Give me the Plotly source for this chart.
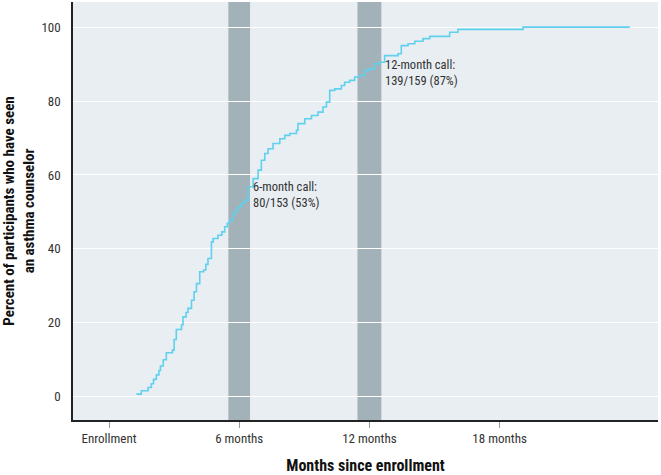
import plotly.graph_objects as go

# ── Palette ──────────────────────────────────────────────────────────────────
PLOT_BG = "#e9eef2"
LINE    = "#5fd0ee"
BAND    = "#a3b1b9"
TXT     = "#333333"
FONT    = "Roboto Condensed, DejaVu Sans Condensed, Liberation Sans Narrow, Roboto, sans-serif"

# ── Data ─────────────────────────────────────────────────────────────────────
MONTHS = [1.26, 1.49, 1.80, 1.95, 2.05, 2.18, 2.30, 2.37, 2.50, 2.64, 2.92, 3.00,
          3.10, 3.34, 3.41, 3.55, 3.64, 3.80, 3.92, 4.03, 4.18, 4.36, 4.46, 4.56,
          4.72, 4.80, 5.02, 5.20, 5.33, 5.45, 5.56, 5.71, 5.84, 5.94, 6.10, 6.25,
          6.41, 6.64, 6.87, 7.02, 7.18, 7.33, 7.56, 7.87, 8.10, 8.33, 8.64, 8.71,
          9.02, 9.33, 9.63, 9.86, 10.02, 10.17, 10.40, 10.71, 10.86, 11.09, 11.32,
          11.55, 11.78, 12.00, 12.24, 12.47, 12.70, 13.32, 13.47, 13.78, 14.09,
          14.47, 14.78, 15.70, 16.08, 19.08, 24.00]
PCT    = [0.7, 1.6, 2.5, 3.5, 4.7, 5.9, 7.1, 8.3, 10.0, 11.9, 12.6, 15.5,
          18.2, 19.4, 21.6, 22.8, 23.9, 26.1, 28.4, 30.6, 33.8, 34.3, 35.8, 37.4,
          41.9, 42.8, 43.7, 44.6, 46.0, 46.9, 47.8, 49.6, 50.5, 51.4, 52.3, 53.2,
          56.8, 59.0, 61.3, 64.0, 65.8, 67.1, 68.5, 69.8, 70.7, 71.2, 72.1, 73.9,
          75.2, 76.1, 77.0, 78.4, 79.7, 82.9, 83.3, 84.2, 85.1, 85.6, 86.5,
          86.9, 88.3, 88.7, 90.1, 90.5, 92.3, 92.8, 95.0, 95.5, 96.2,
          96.9, 97.5, 98.6, 99.4, 100.0, 100.0]

CALL_BANDS  = [(5.5, 6.5), (11.45, 12.55)]
CALL_LABELS = ["6-month call:<br>80/153 (53%)", "12-month call:<br>139/159 (87%)"]
LABEL_POS   = [(6.56, 54.8), (12.63, 87.8)]

X_TICKS  = [0, 6, 12, 18]
X_LABELS = ["Enrollment", "6 months", "12 months", "18 months"]
Y_TICKS  = [0, 20, 40, 60, 80, 100]

fig = go.Figure()

fig.add_trace(go.Scatter(
    x=MONTHS, y=PCT, mode="lines",
    line=dict(color=LINE, width=1.6, shape="hv"),
    showlegend=False, hoverinfo="skip",
))

for x0, x1 in CALL_BANDS:
    fig.add_shape(type="rect", xref="x", yref="paper", x0=x0, x1=x1, y0=0, y1=1,
                  fillcolor=BAND, line_width=0, opacity=1, layer="below")

for txt, (ax, ay) in zip(CALL_LABELS, LABEL_POS):
    fig.add_annotation(x=ax, y=ay, text=txt, showarrow=False,
                       xanchor="left", yanchor="middle", align="left",
                       font=dict(family=FONT, size=12.5, color=TXT))

fig.update_layout(
    width=661, height=475,
    margin=dict(l=73, r=3, t=2, b=55),
    paper_bgcolor="white", plot_bgcolor=PLOT_BG,
    font=dict(family=FONT, color=TXT, size=12),
    xaxis=dict(
        range=[-1.66, 25.3], tickvals=X_TICKS, ticktext=X_LABELS,
        showgrid=False, zeroline=False, automargin=False,
        showline=True, linecolor="#222222", linewidth=1.5,
        ticks="outside", ticklen=6, tickcolor="#999999", tickwidth=1,
        tickfont=dict(family=FONT, size=13, color=TXT),
        title=dict(text="<b>Months since enrollment</b>", standoff=16,
                   font=dict(family=FONT, size=16, color="#111111")),
    ),
    yaxis=dict(
        range=[-6.3, 106.8], tickvals=Y_TICKS,
        showgrid=True, gridcolor="white", gridwidth=1, zeroline=False,
        showline=True, linecolor="#222222", linewidth=1.5, automargin=False,
        ticks="", ticklabelstandoff=8,
        tickfont=dict(family=FONT, size=13, color=TXT),
        title=dict(text="<b>Percent of participants who have seen<br>an asthma counselor</b>",
                   standoff=13,
                   font=dict(family=FONT, size=15, color="#111111")),
    ),
)

# page body has an 8px default margin; drop it so the figure sits at the window's corner
fig.write_html("out.html", config={"displayModeBar": False},
               post_script="document.body.style.margin='0';")
